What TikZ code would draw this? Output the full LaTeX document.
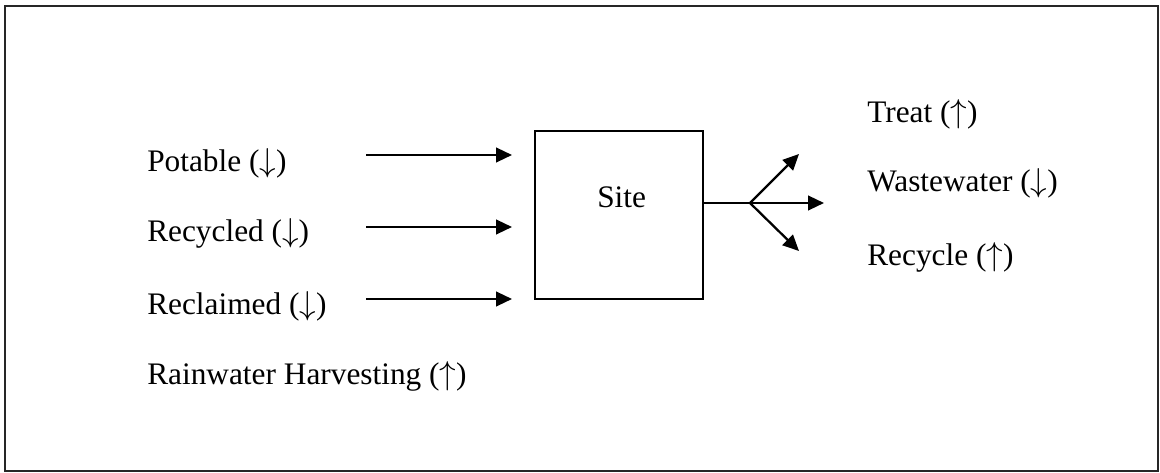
\documentclass[tikz,border=0pt]{standalone}
\usepackage{fontspec}
\setmainfont{Liberation Serif}
\usetikzlibrary{arrows.meta}
\newcommand{\dn}{$\downarrow$}
\newcommand{\upa}{$\uparrow$}
\begin{document}
\begin{tikzpicture}[x=0.75pt,y=-0.75pt,
  lbl/.style={anchor=base west,inner sep=0pt,font=\fontsize{23.5}{28}\selectfont},
  flow/.style={line width=1.7pt,-{Triangle[length=12pt,width=11pt]}},
  sitebox/.style={draw,line width=1.7pt,minimum width=126pt,minimum height=126pt,inner sep=0pt}]
  \useasboundingbox (0,0) rectangle (1160,473);
  % outer frame
  \draw[line width=1.8pt,black!85] (5,6) rectangle (1158,471);

  % sources on the left
  \node[lbl] (pot) at (147,172) {Potable (\dn)};
  \node[lbl] (rcy) at (147,242) {Recycled (\dn)};
  \node[lbl] (rcl) at (147,315) {Reclaimed (\dn)};
  \node[lbl] (rain) at (147,385) {Rainwater Harvesting (\upa)};

  % site
  \node[sitebox] (site) at (619,215) {};
  \node[lbl] (sitetxt) at (597,208) {Site};

  % inflow arrows
  \coordinate (a1) at (366,155);
  \coordinate (a2) at (366,227);
  \coordinate (a3) at (366,299);
  \coordinate (b1) at (512,155);
  \coordinate (b2) at (512,227);
  \coordinate (b3) at (512,299);
  \draw[flow] (a1) -- (b1);
  \draw[flow] (a2) -- (b2);
  \draw[flow] (a3) -- (b3);

  % outflow split
  \coordinate (split) at (750,203);
  \coordinate (tup) at (799,154);
  \coordinate (tmid) at (824,203);
  \coordinate (tdn) at (799,251);
  \draw[line width=1.7pt] (site.east |- split) -- (split);
  \draw[flow] (split) -- (tup);
  \draw[flow] (split) -- (tmid);
  \draw[flow] (split) -- (tdn);

  % destinations on the right
  \node[lbl] (treat) at (867,123) {Treat (\upa)};
  \node[lbl] (waste) at (867,192) {Wastewater (\dn)};
  \node[lbl] (recyc) at (867,266) {Recycle (\upa)};
\end{tikzpicture}
\end{document}
